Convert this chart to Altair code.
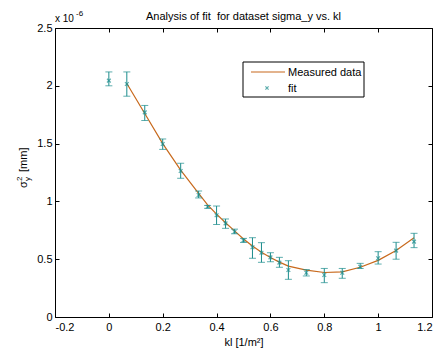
import altair as alt
import pandas as pd

# ---- data (sigma_y^2 in units of 1e-6 mm) ----
kl = [0.0, 0.0667, 0.1333, 0.2, 0.2667, 0.3333, 0.3667, 0.4, 0.4333, 0.4667,
      0.5, 0.5333, 0.5667, 0.6, 0.6333, 0.6667, 0.7333, 0.8, 0.8667, 0.9333,
      1.0, 1.0667, 1.1333]
sigma = [2.045, 2.015, 1.77, 1.497, 1.263, 1.055, 0.954, 0.88, 0.81, 0.738,
         0.663, 0.603, 0.556, 0.516, 0.47, 0.407, 0.383, 0.363, 0.383, 0.435,
         0.508, 0.574, 0.652]
err_low = [2.0, 1.91, 1.70, 1.45, 1.20, 1.03, 0.94, 0.80, 0.767, 0.72,
           0.645, 0.508, 0.473, 0.478, 0.43, 0.326, 0.355, 0.297, 0.335, 0.42,
           0.458, 0.5, 0.6]
err_high = [2.12, 2.12, 1.83, 1.54, 1.33, 1.09, 0.965, 0.96, 0.848, 0.76,
            0.68, 0.686, 0.643, 0.556, 0.516, 0.487, 0.41, 0.42, 0.42, 0.464,
            0.565, 0.646, 0.724]

line_kl = kl[1:]
line_val = [2.02, 1.76, 1.50, 1.27, 1.07, 0.97, 0.89, 0.815, 0.745, 0.675,
            0.615, 0.56, 0.515, 0.475, 0.44, 0.405, 0.385, 0.39, 0.43, 0.49,
            0.575, 0.685]

x_ticks = [-0.2, 0, 0.2, 0.4, 0.6, 0.8, 1, 1.2]
y_ticks = [0, 0.5, 1, 1.5, 2, 2.5]

title_text = "Analysis of fit\u00a0 for dataset sigma_y vs. kl"
x_title = "kl [1/m\u00b2]"
legend_labels = ["Measured data", "fit"]

pts = pd.DataFrame({"kl": kl, "s": sigma, "lo": err_low, "hi": err_high})
ln = pd.DataFrame({"kl": line_kl, "s": line_val})

FONT = "Liberation Sans"
TEAL = "#1a8c8c"
ORANGE = "#c8691c"
W, H = 377, 289

xs = alt.Scale(domain=[-0.2, 1.2], nice=False, zero=False)
ys = alt.Scale(domain=[0, 2.5], nice=False, zero=False)
LBL = "'' + datum.value"

ax_x_main = alt.Axis(values=x_ticks, labelExpr=LBL, ticks=False, domain=False, grid=False,
                     labelPadding=4, labelFontSize=11, labelFont=FONT, labelColor="black",
                     title=x_title, titleFont=FONT, titleFontSize=11, titleFontWeight="normal",
                     titleColor="black", titlePadding=4)
ax_y_main = alt.Axis(values=y_ticks, labelExpr=LBL, ticks=False, domain=False, grid=False,
                     labelPadding=3, labelFontSize=11, labelFont=FONT, labelColor="black",
                     title=None)


def tick_axis(orient, values):
    return alt.Axis(orient=orient, values=values, offset=-4, tickSize=4, ticks=True,
                    tickColor="black", labels=False, domain=False, grid=False, title=None)


line = alt.Chart(ln).mark_line(color=ORANGE, strokeWidth=1.2).encode(
    x=alt.X("kl:Q", scale=xs, axis=ax_x_main),
    y=alt.Y("s:Q", scale=ys, axis=ax_y_main),
)

bars = alt.Chart(pts).mark_rule(color=TEAL, strokeWidth=1).encode(
    x=alt.X("kl:Q", scale=xs, axis=tick_axis("bottom", x_ticks)),
    y=alt.Y("lo:Q", scale=ys, axis=tick_axis("right", y_ticks)),
    y2="hi:Q",
)

cap_lo = alt.Chart(pts).mark_tick(color=TEAL, size=7, thickness=1, orient="horizontal").encode(
    x=alt.X("kl:Q", scale=xs, axis=tick_axis("top", x_ticks)),
    y=alt.Y("lo:Q", scale=ys, axis=tick_axis("left", y_ticks)),
)
cap_hi = alt.Chart(pts).mark_tick(color=TEAL, size=7, thickness=1, orient="horizontal").encode(
    x=alt.X("kl:Q", scale=xs, axis=None),
    y=alt.Y("hi:Q", scale=ys, axis=None),
)

XPATH = "M-1,-1L1,1M-1,1L1,-1"
marks = alt.Chart(pts).mark_point(shape=XPATH, color=TEAL, size=14, strokeWidth=1.2, filled=False).encode(
    x=alt.X("kl:Q", scale=xs, axis=None),
    y=alt.Y("s:Q", scale=ys, axis=None),
)

# ---- annotation texts ----
def txt(text, x, y, size=11, align="left", angle=0, baseline="alphabetic"):
    return alt.Chart(pd.DataFrame({"t": [text]})).mark_text(
        text=text, font=FONT, fontSize=size, align=align, baseline=baseline,
        angle=angle, color="black"
    ).encode(x=alt.value(x), y=alt.value(y))

title = txt(title_text, W / 2, -8, size=11, align="center")
mult = txt("x 10", 0, -6, size=10)
mult_exp = txt("-6", 21, -12, size=8)

# y axis label: sigma_y^2 [mm], rotated
ylab_sigma = txt("\u03c3", -28, 160, size=11, angle=270)
ylab_sup = txt("2", -33, 153, size=8, angle=270)
ylab_sub = txt("y", -25, 153, size=8, angle=270)
ylab_mm = txt("[mm]", -28, 144, size=11, angle=270)

# legend
lx0, ly0, lx1, ly1 = 188, 34, 309, 69
legend_box = alt.Chart(pd.DataFrame({"a": [0]})).mark_rect(
    fill="white", stroke="black", strokeWidth=1
).encode(x=alt.value(lx0), x2=alt.value(lx1), y=alt.value(ly0), y2=alt.value(ly1))
legend_line = alt.Chart(pd.DataFrame({"a": [0]})).mark_rule(color=ORANGE, strokeWidth=1.2).encode(
    x=alt.value(196), x2=alt.value(230), y=alt.value(44), y2=alt.value(44)
)
legend_mark = alt.Chart(pd.DataFrame({"a": [0]})).mark_point(
    shape=XPATH, color=TEAL, size=10, strokeWidth=1.2, filled=False
).encode(x=alt.value(212), y=alt.value(60))
legend_t1 = txt(legend_labels[0], 233, 48, size=11)
legend_t2 = txt(legend_labels[1], 233, 64, size=11)

chart = alt.layer(
    line, bars, cap_lo, cap_hi, marks,
    title, mult, mult_exp, ylab_sigma, ylab_sup, ylab_sub, ylab_mm,
    legend_box, legend_line, legend_mark, legend_t1, legend_t2,
).resolve_axis(x="independent", y="independent").properties(
    width=W, height=H,
    autosize=alt.AutoSizeParams(type="none"),
    padding={"left": 55, "top": 28, "right": 7, "bottom": 33},
    background="white",
).configure_view(stroke="black", strokeWidth=1)

chart.save("out.html", embed_options={"renderer": "svg", "actions": False})
